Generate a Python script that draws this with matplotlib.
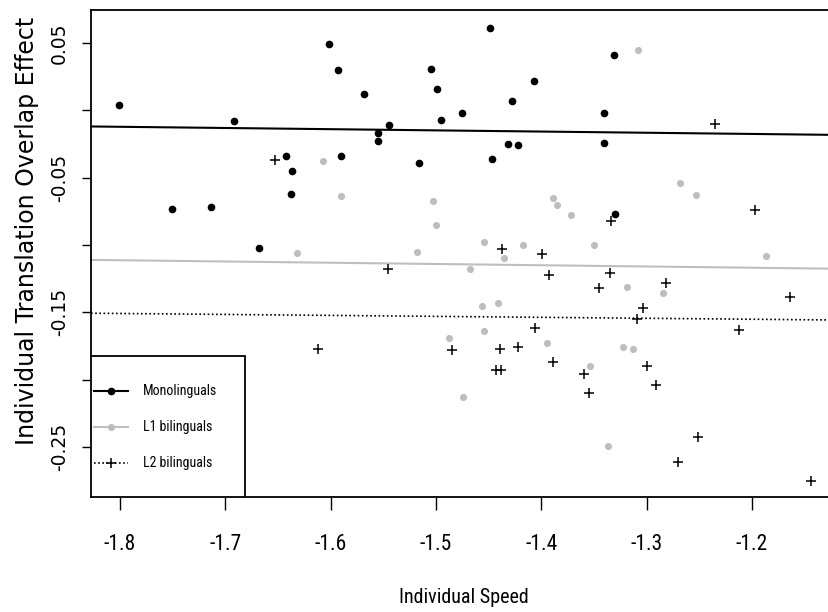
#!/usr/bin/env python3
"""Translation overlap effect vs individual speed, by group."""
import matplotlib
matplotlib.use("Agg")
import matplotlib.pyplot as plt
from matplotlib.lines import Line2D
from matplotlib.patches import Rectangle

# values
mono_x = [-1.801, -1.692, -1.751, -1.714, -1.668, -1.602, -1.593, -1.568, -1.545, -1.555,
          -1.555, -1.642, -1.637, -1.638, -1.590, -1.505, -1.499, -1.495, -1.475, -1.516,
          -1.449, -1.331, -1.407, -1.428, -1.340, -1.432, -1.422, -1.447, -1.340, -1.330]
mono_y = [0.004, -0.008, -0.073, -0.072, -0.102, 0.049, 0.030, 0.012, -0.011, -0.017,
          -0.023, -0.034, -0.045, -0.062, -0.034, 0.031, 0.016, -0.007, -0.002, -0.039,
          0.061, 0.041, 0.022, 0.007, -0.002, -0.025, -0.026, -0.036, -0.024, -0.077]

l1_x = [-1.607, -1.590, -1.632, -1.503, -1.500, -1.518, -1.308, -1.389, -1.385, -1.372,
        -1.454, -1.417, -1.350, -1.435, -1.268, -1.253, -1.187, -1.468, -1.456, -1.441,
        -1.319, -1.284, -1.488, -1.454, -1.474, -1.395, -1.322, -1.313, -1.354, -1.337]
l1_y = [-0.038, -0.064, -0.106, -0.067, -0.085, -0.105, 0.045, -0.065, -0.070, -0.078,
        -0.098, -0.100, -0.100, -0.110, -0.054, -0.063, -0.108, -0.118, -0.145, -0.143,
        -0.131, -0.136, -0.169, -0.164, -0.213, -0.173, -0.176, -0.177, -0.190, -0.249]

l2_x = [-1.653, -1.235, -1.197, -1.334, -1.437, -1.399, -1.546, -1.612, -1.485, -1.393,
        -1.345, -1.335, -1.303, -1.309, -1.406, -1.439, -1.422, -1.443, -1.438, -1.389,
        -1.359, -1.355, -1.300, -1.282, -1.164, -1.212, -1.291, -1.251, -1.270, -1.144]
l2_y = [-0.037, -0.010, -0.074, -0.082, -0.103, -0.107, -0.118, -0.177, -0.178, -0.122,
        -0.132, -0.121, -0.147, -0.155, -0.162, -0.177, -0.176, -0.193, -0.193, -0.187,
        -0.196, -0.210, -0.190, -0.128, -0.139, -0.163, -0.204, -0.243, -0.261, -0.275]

# fitted lines, value at left and right edge of the plot
fit_x = [-1.8275, -1.127]
mono_fit = [-0.0120, -0.0182]
l1_fit = [-0.1111, -0.1176]
l2_fit = [-0.1507, -0.1557]

labels = ["Monolinguals", "L1 bilinguals", "L2 bilinguals"]
GRAY = "#bebebe"
NARROW = ["Roboto Condensed", "DejaVu Sans"]
WIDE = ["DejaVu Sans"]

fig = plt.figure(figsize=(8.29, 6.12), dpi=100)
ax = fig.add_axes([91 / 829, 115 / 612, 745.2 / 829, 487 / 612])
ax.set_xlim(-1.8275, -1.12)
ax.set_ylim(-0.2872, 0.0745)

ax.plot(mono_x, mono_y, "o", color="black", ms=4.5, mec="black", zorder=3)
ax.plot(l1_x, l1_y, "o", color=GRAY, ms=4.1, mec=GRAY, zorder=3)
ax.plot(l2_x, l2_y, "+", color="black", ms=7, mew=1.1, zorder=3)

ax.plot(fit_x, mono_fit, "-", color="black", lw=1.5)
ax.plot(fit_x, l1_fit, "-", color=GRAY, lw=1.5)
ax.plot(fit_x, l2_fit, color="black", lw=1.2, linestyle=(0, (1, 1.5)))

for side in ("left", "bottom", "top"):
    ax.spines[side].set_linewidth(1.3)
ax.spines["right"].set_visible(False)

xt = [-1.8, -1.7, -1.6, -1.5, -1.4, -1.3, -1.2]
ax.set_xticks(xt)
ax.set_xticklabels([f"{v:.1f}" for v in xt], family=NARROW, fontsize=15.5)
ax.tick_params(axis="x", length=9.4, width=1, pad=17.5)

yt = [0.05, 0.0, -0.05, -0.10, -0.15, -0.20, -0.25]
ylab = ["0.05", "", "-0.05", "", "-0.15", "", "-0.25"]
ax.set_yticks(yt)
ax.set_yticklabels(ylab, family=WIDE, fontsize=13.5, rotation=90, va="center")
ax.tick_params(axis="y", length=6.5, width=1, pad=9.5)

ax.set_xlabel("Individual Speed", family=NARROW, fontsize=14.5, va="center")
ax.xaxis.set_label_coords(0.5005, -0.207)
ax.set_ylabel("Individual Translation Overlap Effect", family=WIDE, fontsize=17,
              va="center")
ax.yaxis.set_label_coords(-0.0855, 0.546)

# legend box drawn by hand, R style
ax.add_patch(Rectangle((0, 0), 0.2067, 0.2895, transform=ax.transAxes,
                       facecolor="white", edgecolor="black", lw=1.3, zorder=4))
rows = [0.2177, 0.1437, 0.0698]
styles = [
    dict(color="black", ls="-", marker="o", ms=4.5, mew=1.0, lw=1.5),
    dict(color=GRAY, ls="-", marker="o", ms=4.1, mew=1.0, lw=1.5),
    dict(color="black", ls=(0, (1, 1.5)), marker="+", ms=7, mew=1.1, lw=1.2),
]
for y, st, lab in zip(rows, styles, labels):
    ax.add_line(Line2D([0.004, 0.0497], [y, y], transform=ax.transAxes, zorder=5,
                       color=st["color"], ls=st["ls"], lw=st["lw"]))
    ax.plot([0.027], [y], transform=ax.transAxes, zorder=5, ls="none",
            marker=st["marker"], color=st["color"], ms=st["ms"], mew=st["mew"])
    ax.text(0.0694, y, lab, transform=ax.transAxes, family=NARROW, fontsize=10,
            va="center", ha="left", zorder=5)

fig.savefig("out.png", dpi=100)
print("Saved out.png")
